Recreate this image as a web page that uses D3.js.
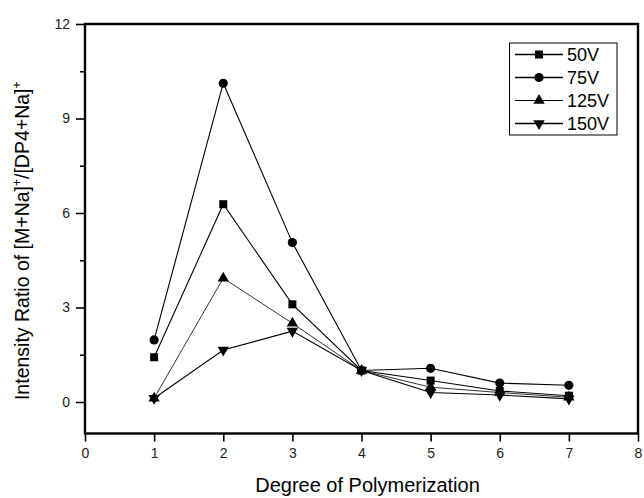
<!DOCTYPE html>
<html>
<head>
<meta charset="utf-8">
<script src="https://cdn.jsdelivr.net/npm/d3@7"></script>
<style>
  html, body { margin: 0; padding: 0; background: #fff; }
  svg { display: block; font-family: "Liberation Sans", Arial, sans-serif; }
</style>
</head>
<body>
<svg id="chart" width="644" height="498"></svg>
<script>
// Degree of polymerization (x) and intensity ratios per cone voltage
const dp = [1, 2, 3, 4, 5, 6, 7];
const seriesNames = ["50V", "75V", "125V", "150V"];
const v50  = [1.42, 6.28, 3.10, 1.00, 0.68, 0.35, 0.20];
const v75  = [1.97, 10.12, 5.06, 1.00, 1.07, 0.60, 0.53];
const v125 = [0.12, 3.93, 2.50, 1.00, 0.47, 0.30, 0.15];
const v150 = [0.12, 1.65, 2.25, 1.00, 0.30, 0.22, 0.10];
const xTicks = [0, 1, 2, 3, 4, 5, 6, 7, 8];
const yTicks = [0, 3, 6, 9, 12];
const yMinorTicks = [1.5, 4.5, 7.5, 10.5];

const series = [
  { name: seriesNames[0], values: v50,  symbol: d3.symbolSquare,   size: 64, rotate: 0,   lw: 1.1 },
  { name: seriesNames[1], values: v75,  symbol: d3.symbolCircle,   size: 66, rotate: 0,   lw: 1.1 },
  { name: seriesNames[2], values: v125, symbol: d3.symbolTriangle, size: 56, rotate: 0,   lw: 0.8 },
  { name: seriesNames[3], values: v150, symbol: d3.symbolTriangle, size: 56, rotate: 180, lw: 1.1 }
];

const svg = d3.select("#chart");
const plot = { left: 85, right: 638, top: 24, bottom: 433.5 };

const x = d3.scaleLinear().domain([0, 8]).range([plot.left, plot.right]);
const y = d3.scaleLinear().domain([-1, 12]).range([plot.bottom, plot.top]);

// Axes (ticks only; the frame is drawn as a rectangle)
const xAxis = svg.append("g")
  .attr("transform", `translate(0,${plot.bottom})`)
  .call(d3.axisBottom(x).tickValues(xTicks).tickSize(8).tickPadding(7).tickFormat(d3.format("d")));
const yAxis = svg.append("g")
  .attr("transform", `translate(${plot.left},0)`)
  .call(d3.axisLeft(y).tickValues(yTicks).tickSize(9).tickPadding(6).tickFormat(d3.format("d")));
const yMinor = svg.append("g")
  .attr("transform", `translate(${plot.left},0)`)
  .call(d3.axisLeft(y).tickValues(yMinorTicks).tickSize(5).tickFormat(""));

[xAxis, yAxis, yMinor].forEach(g => {
  g.select(".domain").remove();
  g.selectAll(".tick line").attr("stroke", "#000").attr("stroke-width", 1.6);
  g.selectAll(".tick text").attr("fill", "#222").attr("font-size", 14)
    .attr("font-family", "Liberation Sans, Arial, sans-serif");
});

// Frame
svg.append("rect")
  .attr("x", plot.left).attr("y", plot.top)
  .attr("width", plot.right - plot.left).attr("height", plot.bottom - plot.top)
  .attr("fill", "none").attr("stroke", "#000").attr("stroke-width", 2.4);

// Series lines and markers
const line = d3.line().x((d, i) => x(dp[i])).y(d => y(d));
series.forEach(s => {
  svg.append("path")
    .datum(s.values)
    .attr("d", line)
    .attr("fill", "none")
    .attr("stroke", "#000")
    .attr("stroke-width", s.lw);
  svg.append("g").selectAll("path")
    .data(s.values)
    .join("path")
    .attr("d", d3.symbol().type(s.symbol).size(s.size))
    .attr("transform", (d, i) => `translate(${x(dp[i])},${y(d)}) rotate(${s.rotate})`)
    .attr("fill", "#000");
});

// Legend
const legend = svg.append("g");
legend.append("rect")
  .attr("x", 509.5).attr("y", 43).attr("width", 107.5).attr("height", 92)
  .attr("fill", "#fff").attr("stroke", "#000").attr("stroke-width", 1);
series.forEach((s, i) => {
  const cy = 54.5 + i * 23;
  legend.append("line")
    .attr("x1", 515).attr("x2", 563).attr("y1", cy).attr("y2", cy)
    .attr("stroke", "#000").attr("stroke-width", s.lw + 0.4);
  legend.append("path")
    .attr("d", d3.symbol().type(s.symbol).size(s.size))
    .attr("transform", `translate(539,${cy}) rotate(${s.rotate})`)
    .attr("fill", "#000");
  legend.append("text")
    .attr("x", 567).attr("y", cy + 6.5)
    .attr("font-size", 18)
    .attr("fill", "#000")
    .text(s.name);
});

// Axis titles
svg.append("text")
  .attr("x", (plot.left + plot.right) / 2 + 6)
  .attr("y", 492)
  .attr("text-anchor", "middle")
  .attr("font-size", 20)
  .attr("fill", "#000")
  .text("Degree of Polymerization");

const yTitle = svg.append("text")
  .attr("transform", `translate(29,${(plot.top + plot.bottom) / 2 + 12}) rotate(-90)`)
  .attr("text-anchor", "middle")
  .attr("font-size", 19.5)
  .attr("fill", "#000");
yTitle.append("tspan").text("Intensity Ratio of [M+Na]");
yTitle.append("tspan").attr("dy", -8).attr("font-size", 12).text("+");
yTitle.append("tspan").attr("dy", 8).text("/[DP4+Na]");
yTitle.append("tspan").attr("dy", -8).attr("font-size", 12).text("+");
</script>
</body>
</html>
